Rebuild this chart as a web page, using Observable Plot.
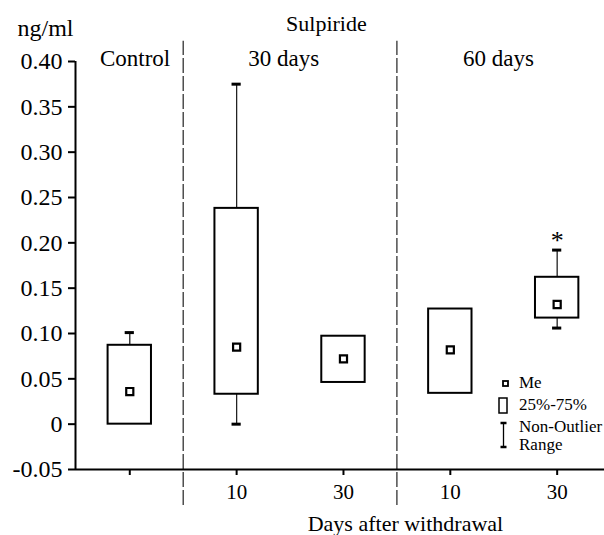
<!DOCTYPE html>
<html>
<head>
<meta charset="utf-8">
<script src="https://cdn.jsdelivr.net/npm/d3@7"></script>
<script src="https://cdn.jsdelivr.net/npm/@observablehq/plot@0.6"></script>
</head>
<body style="margin:0">
<div id="chart"></div>
<script>
// ---- data ----
const groups = ["Control", "30 days", "30 days", "60 days", "60 days"];
const days = ["", "10", "30", "10", "30"];
const q1 = [0.000, 0.033, 0.046, 0.034, 0.117];
const q3 = [0.087, 0.238, 0.097, 0.127, 0.162];
const median = [0.036, 0.085, 0.072, 0.082, 0.132];
const wmin = [0.000, 0.000, 0.046, 0.034, 0.106];
const wmax = [0.101, 0.375, 0.097, 0.127, 0.192];
const signif = ["", "", "", "", "*"];
const yTicks = [-0.05, 0, 0.05, 0.10, 0.15, 0.20, 0.25, 0.30, 0.35, 0.40];
const sectionBounds = [0.5, 2.5];
const headers = [
  {text: "Control", x: 0.05},
  {text: "30 days", x: 1.44},
  {text: "60 days", x: 3.45}
];

const rows = groups.map((g, i) => ({
  i, group: g, day: days[i], q1: q1[i], q3: q3[i], median: median[i],
  min: wmin[i], max: wmax[i], sig: signif[i]
}));

const xDomain = [-0.508, 4.443];
const bw = 0.203;   // half box width (x units)
const cw = 0.043;   // half cap width
const serifFont = "Liberation Serif";

const chart = Plot.plot({
  width: 604,
  height: 535,
  marginLeft: 75,
  marginRight: 0,
  marginTop: 61,
  marginBottom: 66,
  x: {type: "linear", domain: xDomain, axis: null},
  y: {domain: [-0.05, 0.40], axis: null},
  style: {fontFamily: serifFont},
  marks: [
    Plot.ruleX(sectionBounds, {y1: -0.0897, y2: 0.4224, stroke: "#333", strokeWidth: 1.3, strokeDasharray: "15,3"}),
    Plot.axisY({ticks: yTicks, tickFormat: d => d === 0 ? "0" : d.toFixed(2), tickSize: 7, tickPadding: 6,
      fontSize: 24, fontFamily: serifFont, strokeWidth: 2, label: null}),
    Plot.axisX({ticks: [0, 1, 2, 3, 4], tickFormat: i => days[i], tickSize: 6, tickPadding: 9,
      fontSize: 21, fontFamily: serifFont, strokeWidth: 2, label: null}),
    Plot.ruleY([-0.05], {strokeWidth: 2}),
    Plot.ruleX([xDomain[0]], {y1: -0.05, y2: 0.40, strokeWidth: 2}),
    Plot.ruleX(rows.filter(d => d.max > d.q3), {x: "i", y1: "q3", y2: "max", stroke: "#222", strokeWidth: 1.3}),
    Plot.ruleX(rows.filter(d => d.min < d.q1), {x: "i", y1: "q1", y2: "min", stroke: "#222", strokeWidth: 1.3}),
    Plot.ruleY(rows.filter(d => d.max > d.q3), {y: "max", x1: d => d.i - cw, x2: d => d.i + cw, strokeWidth: 3}),
    Plot.ruleY(rows.filter(d => d.min < d.q1), {y: "min", x1: d => d.i - cw, x2: d => d.i + cw, strokeWidth: 3}),
    Plot.rect(rows, {x1: d => d.i - bw, x2: d => d.i + bw, y1: "q1", y2: "q3", fill: "white", stroke: "black", strokeWidth: 2}),
    Plot.dot(rows, {x: "i", y: "median", symbol: "square", r: 4, fill: "white", stroke: "black", strokeWidth: 2.2}),
    Plot.text(rows.filter(d => d.sig), {x: "i", y: "max", text: "sig", lineAnchor: "bottom", dy: -1, fontSize: 26, fontFamily: serifFont}),
    Plot.text(headers, {x: "x", text: "text", frameAnchor: "top", lineAnchor: "bottom", dy: 4, fontSize: 23, fontFamily: serifFont}),
    Plot.text(["Sulpiride"], {x: [1.84], frameAnchor: "top", lineAnchor: "bottom", dy: -31, fontSize: 22, fontFamily: serifFont}),
    Plot.text(["ng/ml"], {frameAnchor: "top-left", textAnchor: "start", lineAnchor: "bottom", dx: -58, dy: -26, fontSize: 24, fontFamily: serifFont}),
    Plot.text(["Days after withdrawal"], {x: [2.58], frameAnchor: "bottom", lineAnchor: "bottom", dy: 61, fontSize: 22, fontFamily: serifFont})
  ]
});

const lg = d3.select(chart).append("g").attr("transform", "translate(498,378)")
  .attr("font-family", serifFont).attr("font-size", 17).attr("text-anchor", "start");
lg.append("rect").attr("x", 5).attr("y", 3).attr("width", 5).attr("height", 5)
  .attr("fill", "white").attr("stroke", "black").attr("stroke-width", 1.8);
lg.append("rect").attr("x", 1).attr("y", 20).attr("width", 8).attr("height", 15)
  .attr("fill", "white").attr("stroke", "black").attr("stroke-width", 1.5);
lg.append("line").attr("x1", 5.5).attr("x2", 5.5).attr("y1", 45).attr("y2", 69).attr("stroke", "black").attr("stroke-width", 1.3);
lg.append("line").attr("x1", 2.5).attr("x2", 8.5).attr("y1", 45).attr("y2", 45).attr("stroke", "black").attr("stroke-width", 2.5);
lg.append("line").attr("x1", 2.5).attr("x2", 8.5).attr("y1", 69).attr("y2", 69).attr("stroke", "black").attr("stroke-width", 2.5);
[["Me", 10], ["25%-75%", 32], ["Non-Outlier", 54], ["Range", 72]].forEach(([t, y]) => {
  lg.append("text").attr("x", 21).attr("y", y).attr("font-family", serifFont).text(t);
});

document.getElementById("chart").appendChild(chart);
</script>
</body>
</html>
